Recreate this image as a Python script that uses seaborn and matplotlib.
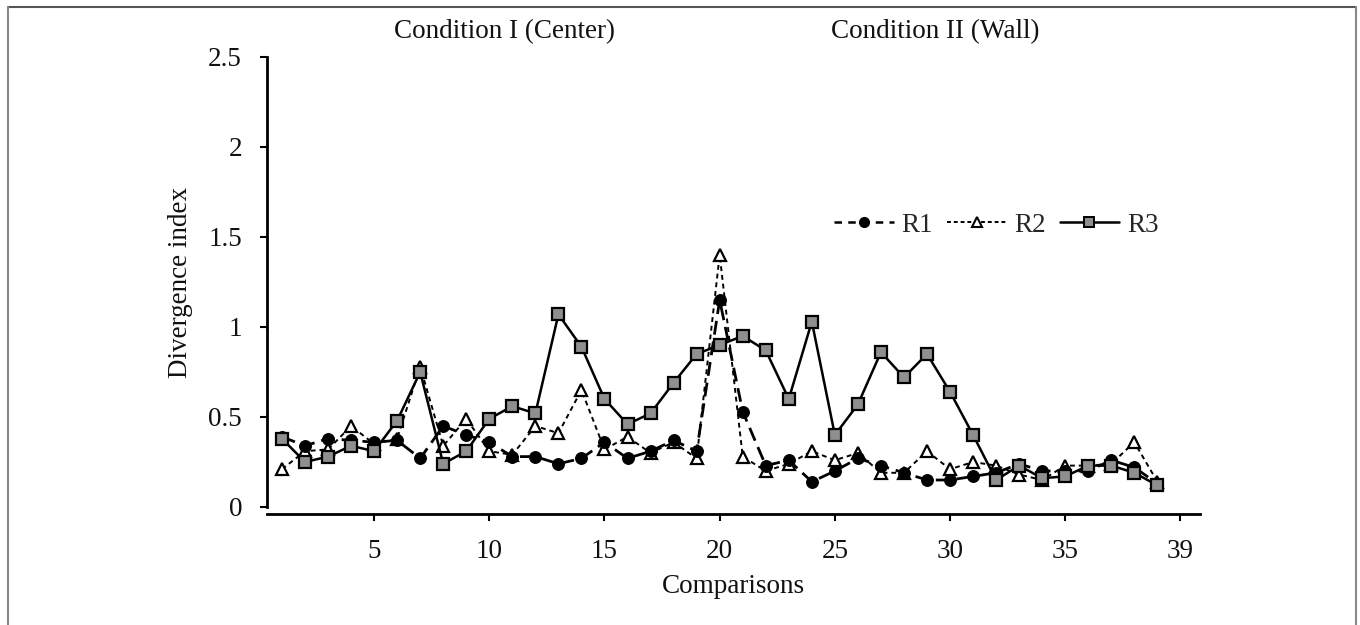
import numpy as np
import pandas as pd
import matplotlib
matplotlib.use("Agg")
import matplotlib.pyplot as plt
from matplotlib.lines import Line2D
import seaborn as sns

comparisons = list(range(1, 40))
r1 = [0.39, 0.34, 0.38, 0.37, 0.36, 0.37, 0.27, 0.45, 0.40, 0.36,
      0.28, 0.28, 0.24, 0.27, 0.36, 0.27, 0.31, 0.37, 0.31, 1.15,
      0.53, 0.23, 0.26, 0.14, 0.20, 0.27, 0.23, 0.19, 0.15, 0.15,
      0.17, 0.19, 0.24, 0.20, 0.20, 0.20, 0.26, 0.22, 0.13]
r2 = [0.21, 0.31, 0.32, 0.45, 0.35, 0.38, 0.78, 0.34, 0.49, 0.31,
      0.29, 0.45, 0.41, 0.65, 0.32, 0.39, 0.30, 0.36, 0.27, 1.40,
      0.28, 0.20, 0.24, 0.31, 0.26, 0.30, 0.19, 0.19, 0.31, 0.21,
      0.25, 0.23, 0.18, 0.15, 0.23, 0.23, 0.24, 0.36, 0.14]
r3 = [0.38, 0.25, 0.28, 0.34, 0.31, 0.48, 0.75, 0.24, 0.31, 0.49,
      0.56, 0.52, 1.07, 0.89, 0.60, 0.46, 0.52, 0.69, 0.85, 0.90,
      0.95, 0.87, 0.60, 1.03, 0.40, 0.57, 0.86, 0.72, 0.85, 0.64,
      0.40, 0.15, 0.23, 0.16, 0.17, 0.23, 0.23, 0.19, 0.12]
tick_positions = [5, 10, 15, 20, 25, 30, 35, 40]
tick_labels = ["5", "10", "15", "20", "25", "30", "35", "39"]
y_ticks = [0, 0.5, 1, 1.5, 2, 2.5]
y_tick_labels = ["0", "0.5", "1", "1.5", "2", "2.5"]

sns.set_theme(style="white")
plt.rcParams['font.family'] = ['Liberation Serif', 'DejaVu Serif']

fig = plt.figure(figsize=(13.6, 6.25), dpi=100)
ax = fig.add_axes([267/1360, 1 - 507/625, (1200-267)/1360, (507-57)/625])

df = pd.DataFrame({"Comparisons": comparisons, "R1": r1, "R2": r2, "R3": r3})

sns.lineplot(data=df, x="Comparisons", y="R2", ax=ax, color="black",
             linestyle=(0, (2.5, 2.0)), linewidth=1.4, marker="^",
             markersize=9, markerfacecolor="white", markeredgecolor="black",
             markeredgewidth=1.6, zorder=2)
sns.lineplot(data=df, x="Comparisons", y="R1", ax=ax, color="black",
             linestyle=(0, (5, 2.5)), linewidth=2.0, marker="o",
             markersize=8.5, markerfacecolor="black", markeredgecolor="black",
             zorder=3)
sns.lineplot(data=df, x="Comparisons", y="R3", ax=ax, color="black",
             linestyle="-", linewidth=1.8, marker="s",
             markersize=9, markerfacecolor="#8f8f8f", markeredgecolor="black",
             markeredgewidth=1.6, zorder=4)

ax.set_xlim(0.35, 40.85)
ax.set_ylim(0, 2.5)
ax.set_xticks(tick_positions)
ax.set_xticklabels(tick_labels)
ax.set_yticks(y_ticks)
ax.set_yticklabels(y_tick_labels)

for s in ["top", "right"]:
    ax.spines[s].set_visible(False)
for s in ["left", "bottom"]:
    ax.spines[s].set_color("black")
    ax.spines[s].set_linewidth(2.0)
ax.spines["bottom"].set_position(("outward", 5))

ax.tick_params(axis="both", which="major", direction="out", length=5,
               width=1.5, color="black", labelsize=19.5, labelcolor="#111111",
               left=True, bottom=True)
ax.tick_params(axis="x", pad=13)
ax.tick_params(axis="y", pad=13)

ax.set_xlabel("Comparisons", fontsize=19.5, color="#111111", labelpad=7)
ax.set_ylabel("Divergence index", fontsize=19.5, color="#111111", labelpad=11)
ax.grid(False)

handles = [
    Line2D([], [], color="black", linestyle=(0, (3, 2.5)), linewidth=1.8,
           marker="o", markersize=7, markerfacecolor="black"),
    Line2D([], [], color="black", linestyle=(0, (2, 1.5)), linewidth=1.4,
           marker="^", markersize=6.5, markerfacecolor="white",
           markeredgecolor="black", markeredgewidth=1.5),
    Line2D([], [], color="black", linestyle="-", linewidth=1.8,
           marker="s", markersize=7, markerfacecolor="#8f8f8f",
           markeredgecolor="black", markeredgewidth=1.4),
]
ax.legend(handles, ["R1", "R2", "R3"], loc="center left",
          bbox_to_anchor=((834-267)/(1200-267), (507-225)/(507-57)),
          ncol=3, frameon=False, fontsize=19.5, handlelength=2.2,
          handletextpad=0.3, columnspacing=0.5, borderpad=0, borderaxespad=0)

fig.text(505/1360, 1 - 32/625, "Condition I (Center)", ha="center",
         va="center", fontsize=19.5, color="#111111")
fig.text(935/1360, 1 - 32/625, "Condition II (Wall)", ha="center",
         va="center", fontsize=19.5, color="#111111")

# outer frame
fig.add_artist(Line2D([7.5/1360, 1356/1360], [1 - 6.5/625, 1 - 6.5/625],
                      transform=fig.transFigure, color="#555555", linewidth=1.5))
fig.add_artist(Line2D([7.5/1360, 7.5/1360], [0, 1 - 6.5/625],
                      transform=fig.transFigure, color="#888888", linewidth=1.5))
fig.add_artist(Line2D([1356/1360, 1356/1360], [0, 1 - 6.5/625],
                      transform=fig.transFigure, color="#888888", linewidth=1.5))

fig.savefig("out.png", dpi=100, facecolor="white")
